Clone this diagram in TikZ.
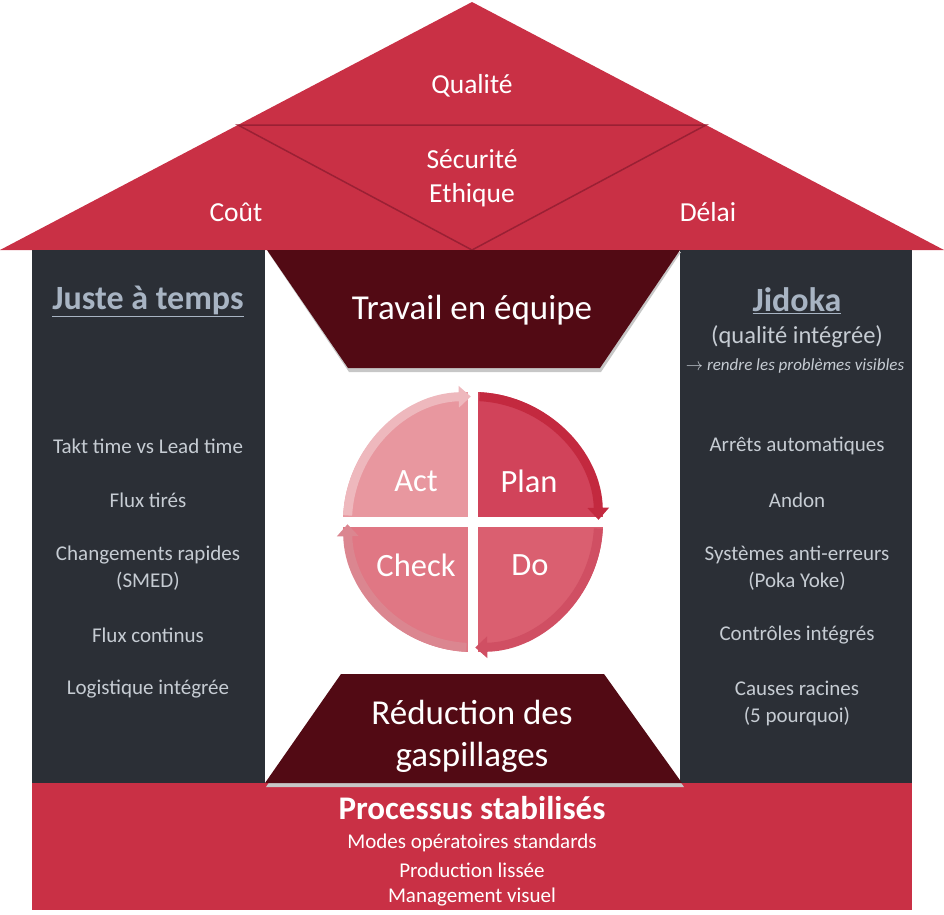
\documentclass[tikz,border=0pt]{standalone}
\usepackage{fontspec}
\setmainfont{Carlito}
\usetikzlibrary{shapes, arrows.meta, positioning}
\definecolor{roofred}{HTML}{C93045}
\definecolor{roofline}{HTML}{9A2034}
\definecolor{pillar}{HTML}{2B2F36}
\definecolor{wine}{HTML}{520A14}
\definecolor{titlegray}{HTML}{A8B4C3}
\definecolor{itemgray}{HTML}{C6CCD3}
\definecolor{plan}{HTML}{D1435A}
\definecolor{planband}{HTML}{C3293F}
\definecolor{do}{HTML}{DA5F70}
\definecolor{doband}{HTML}{D04F63}
\definecolor{check}{HTML}{E07784}
\definecolor{checkband}{HTML}{DB8690}
\definecolor{act}{HTML}{E8979F}
\definecolor{actband}{HTML}{EEB8BD}
\tikzstyle{rooftxt} = [text=white, font=\fontsize{27.5}{34}\selectfont, align=center]
\tikzstyle{item}    = [text=itemgray, font=\fontsize{21}{27}\selectfont, align=center]
\tikzstyle{pilhead} = [text=titlegray, font=\bfseries\fontsize{34}{36}\selectfont]
\tikzstyle{big}     = [text=white, font=\fontsize{35}{42}\selectfont, align=center]
\tikzstyle{pdca}    = [text=white, font=\fontsize{32.5}{34}\selectfont]
\tikzstyle{base}    = [text=white, font=\fontsize{21}{27}\selectfont]
\tikzstyle{band}    = [line width=9, -{Triangle[length=12, width=21]}]

\begin{document}
\begin{tikzpicture}[x=1pt, y=-1pt]
\useasboundingbox (0,0) rectangle (944,914);

% roof and pillars
\fill [roofred] (0,250) -- (472,2) -- (944,250) -- cycle;
\draw [roofline, line width=1.5] (238,125) -- (706,125) -- (472,250) -- cycle;
\fill [pillar]  (32,250)  rectangle (265,783);
\fill [pillar]  (680,250) rectangle (912,783);
\fill [roofred] (32,783)  rectangle (912,910);

% trapezoids
\fill [black!22] (268,252) -- (681,252) -- (601,372) -- (349,372) -- cycle;
\fill [wine]     (267,250) -- (680,250) -- (600,368) -- (348,368) -- cycle;
\fill [black!22] (342,676) -- (605,676) -- (684,787) -- (266,787) -- cycle;
\fill [wine]     (341,674) -- (604,674) -- (682,783) -- (265,783) -- cycle;

% pdca wheel
\begin{scope}
  \clip (473,522) circle (130);
  \fill [plan]  (478,380) rectangle (620,517);
  \fill [do]    (478,527) rectangle (620,660);
  \fill [check] (330,527) rectangle (468,660);
  \fill [act]   (330,380) rectangle (468,517);
\end{scope}
\draw [band, planband]  (473,522) ++(-87:125.5) arc [start angle=-87, end angle=-1,  radius=125.5];
\draw [band, doband]    (473,522) ++(3:125.5)   arc [start angle=3,   end angle=89,  radius=125.5];
\draw [band, checkband] (473,522) ++(93:125.5)  arc [start angle=93,  end angle=179, radius=125.5];
\draw [band, actband]   (473,522) ++(183:125.5) arc [start angle=183, end angle=269, radius=125.5];

% nodes
\node [rooftxt] at ( 472 ,  86 ) (qualite) {Qualité};
\node [rooftxt] at ( 472 , 178 ) (securite) {Sécurité\\Ethique};
\node [rooftxt] at ( 236 , 212 ) (cout)    {Coût};
\node [rooftxt] at ( 708 , 212 ) (delai)   {Délai};

\node [big]  at ( 472 , 310 ) (equipe)  {Travail en équipe};
\node [big]  at ( 472 , 736 ) (gaspi)   {Réduction des\\gaspillages};

\node [pdca] at ( 416 , 481 ) (act)   {Act};
\node [pdca] at ( 529 , 481 ) (plan)  {Plan};
\node [pdca] at ( 416 , 565 ) (check) {Check};
\node [pdca] at ( 530 , 565 ) (do)    {Do};

\node [pilhead] at ( 148 , 301 ) (jat)    {\underline{Juste à temps}};
\node [item]    at ( 148 , 446 ) (takt)   {Takt time vs Lead time};
\node [item]    at ( 148 , 500 ) (tires)  {Flux tirés};
\node [item]    at ( 148 , 568 ) (smed)   {Changements rapides\\(SMED)};
\node [item]    at ( 148 , 635 ) (continu){Flux continus};
\node [item]    at ( 148 , 689 ) (logi)   {Logistique intégrée};

\node [pilhead] at ( 797 , 301 ) (jidoka) {\underline{Jidoka}};
\node [item, font=\fontsize{24.5}{26}\selectfont] at ( 797 , 337 ) (integ) {(qualité intégrée)};
\node [item, font=\itshape\fontsize{17}{18}\selectfont] at ( 795 , 366 ) (visible) {$\rightarrow$ rendre les problèmes visibles};
\node [item]    at ( 797 , 446 ) (arrets) {Arrêts automatiques};
\node [item]    at ( 797 , 500 ) (andon)  {Andon};
\node [item]    at ( 797 , 568 ) (poka)   {Systèmes anti-erreurs\\(Poka Yoke)};
\node [item]    at ( 797 , 635 ) (ctrl)   {Contrôles intégrés};
\node [item]    at ( 797 , 703 ) (causes) {Causes racines\\(5 pourquoi)};

\node [base, font=\bfseries\fontsize{33}{34}\selectfont] at ( 472 , 808 ) (stab) {Processus stabilisés};
\node [base] at ( 472 , 843 ) (modes)  {Modes opératoires standards};
\node [base] at ( 472 , 870 ) (lisse)  {Production lissée};
\node [base] at ( 472 , 897 ) (visuel) {Management visuel};

\end{tikzpicture}
\end{document}
